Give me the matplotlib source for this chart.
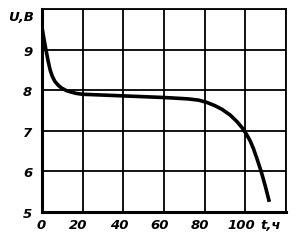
import matplotlib
matplotlib.use("Agg")
import matplotlib.pyplot as plt

t_hours = [0, 1, 2, 3, 4, 5, 6.3, 8, 9.7, 12, 14.6, 17, 20, 30, 40, 50, 60, 67, 72, 77, 81, 85, 88.5,
           92.5, 96, 98.5, 100.5, 102.3, 104, 105.8, 107.9, 109.8, 111.8]
voltage = [9.55, 9.25, 8.98, 8.72, 8.5, 8.35, 8.22, 8.12, 8.05, 7.99, 7.95, 7.92, 7.9, 7.88, 7.86, 7.84,
           7.82, 7.8, 7.785, 7.755, 7.7, 7.62, 7.53, 7.39, 7.22, 7.07, 6.92, 6.76, 6.56, 6.3, 5.98, 5.64, 5.25]
x_ticks = [0, 20, 40, 60, 80, 100]
y_ticks = [5, 6, 7, 8, 9]
x_label = 't,ч'
y_label = 'U,В'

fig = plt.figure(figsize=(3.01, 2.46), dpi=100)
ax = fig.add_axes([42/301, 1-212/246, (286-42)/301, (212-9)/246])
ax.set_xlim(0, 120)
ax.set_ylim(5, 10)
ax.set_xticks([0, 20, 40, 60, 80, 100, 120])
ax.set_yticks([5, 6, 7, 8, 9, 10])
ax.grid(True, color='black', linewidth=1.3)
ax.tick_params(length=0, labelleft=False, labelbottom=False)
for s in ax.spines.values():
    s.set_linewidth(1.3)
ax.spines['left'].set_linewidth(2.2)
ax.spines['bottom'].set_linewidth(2.2)

ax.plot(t_hours, voltage, color='black', linewidth=2.6, solid_capstyle='butt', solid_joinstyle='round')

fp = dict(fontsize=9.5, fontweight='bold', fontstyle='italic', family='DejaVu Sans', color='black',
          clip_on=False)
for xv in x_ticks:
    ax.text(xv - (0.5 if xv == 0 else 2.2), 4.66, str(xv), ha='center', va='center', **fp)
for yv in y_ticks:
    ax.text(-7, yv - 0.06, str(yv), ha='center', va='center', **fp)
ax.text(112.7, 4.66, x_label, ha='center', va='center', **fp)
ax.text(-10.2, 9.8, y_label, ha='center', va='center', **fp)

fig.savefig('out.png', dpi=100)
